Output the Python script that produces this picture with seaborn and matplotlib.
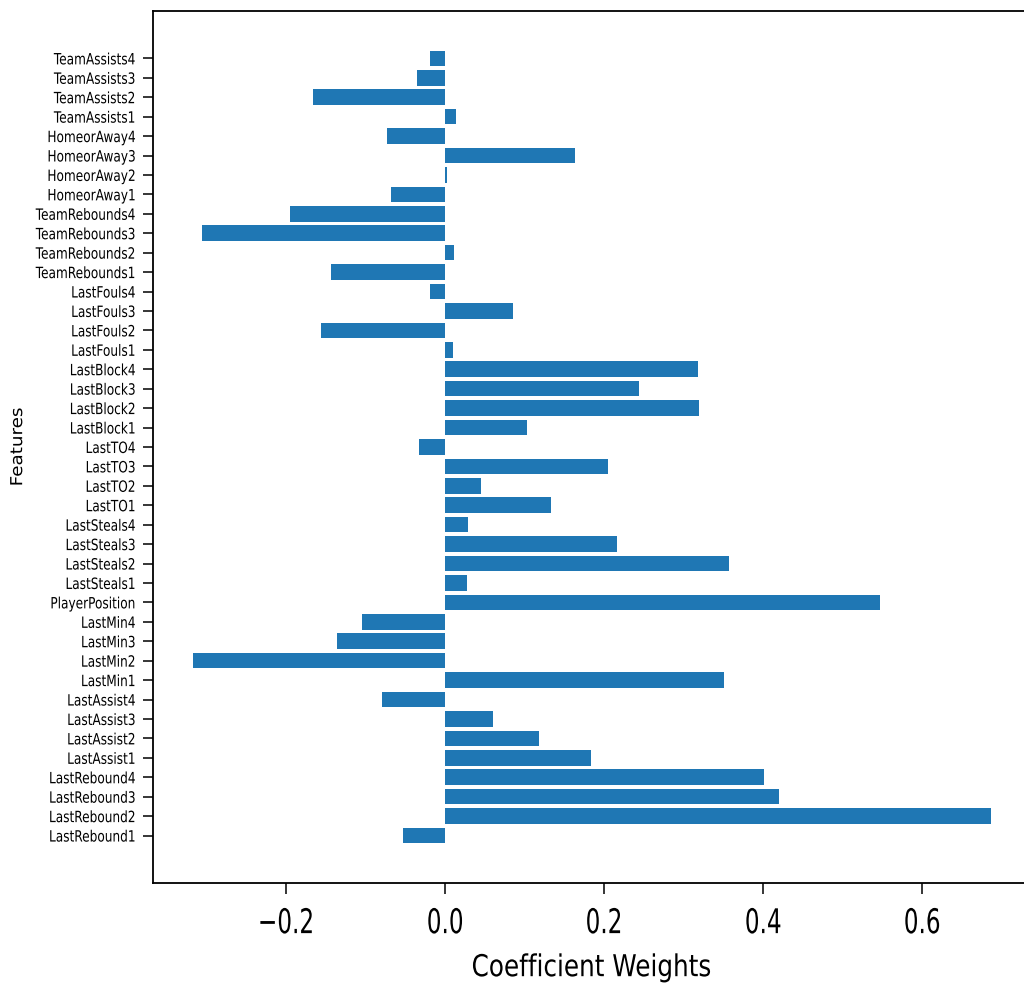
import numpy as np
import pandas as pd
import matplotlib
matplotlib.use("Agg")
import matplotlib.pyplot as plt
import seaborn as sns
from matplotlib.patheffects import AbstractPathEffect
from matplotlib.transforms import Affine2D

# Feature names, bottom of the axis first
features = [
    "LastRebound1", "LastRebound2", "LastRebound3", "LastRebound4",
    "LastAssist1", "LastAssist2", "LastAssist3", "LastAssist4",
    "LastMin1", "LastMin2", "LastMin3", "LastMin4",
    "PlayerPosition",
    "LastSteals1", "LastSteals2", "LastSteals3", "LastSteals4",
    "LastTO1", "LastTO2", "LastTO3", "LastTO4",
    "LastBlock1", "LastBlock2", "LastBlock3", "LastBlock4",
    "LastFouls1", "LastFouls2", "LastFouls3", "LastFouls4",
    "TeamRebounds1", "TeamRebounds2", "TeamRebounds3", "TeamRebounds4",
    "HomeorAway1", "HomeorAway2", "HomeorAway3", "HomeorAway4",
    "TeamAssists1", "TeamAssists2", "TeamAssists3", "TeamAssists4",
]

# Regression coefficient of each feature (same order)
weights = [
    -0.053, 0.686, 0.419, 0.401,
    0.183, 0.118, 0.060, -0.080,
    0.350, -0.318, -0.136, -0.105,
    0.547,
    0.027, 0.357, 0.216, 0.028,
    0.133, 0.045, 0.204, -0.033,
    0.103, 0.319, 0.243, 0.317,
    0.009, -0.156, 0.085, -0.020,
    -0.144, 0.011, -0.306, -0.196,
    -0.069, 0.002, 0.163, -0.074,
    0.013, -0.167, -0.036, -0.020,
]

x_ticks = [-0.2, 0.0, 0.2, 0.4, 0.6]


class Squeeze(AbstractPathEffect):
    """Draw text glyphs narrowed along one direction about an anchor."""

    def __init__(self, sx=1.0, sy=1.0, anchor="center"):
        super().__init__()
        self.sx, self.sy, self.anchor = sx, sy, anchor

    def draw_path(self, renderer, gc, tpath, affine, rgbFace=None):
        v = tpath.vertices
        if len(v) == 0:
            return
        x0, x1 = v[:, 0].min(), v[:, 0].max()
        y0, y1 = v[:, 1].min(), v[:, 1].max()
        ax_ = {"left": x0, "right": x1, "center": 0.5 * (x0 + x1)}[self.anchor]
        ay_ = 0.5 * (y0 + y1)
        t = (Affine2D().translate(-ax_, -ay_).scale(self.sx, self.sy)
             .translate(ax_, ay_) + affine)
        renderer.draw_path(gc, tpath, t, rgbFace)


df = pd.DataFrame({"feature": features, "weight": weights})
order = features[::-1]

fig = plt.figure(figsize=(10.24, 9.86), dpi=100)
ax = fig.add_axes([0.1492, 0.1045, 0.8574, 0.8844])

sns.barplot(data=df, x="weight", y="feature", order=order, orient="h",
            color="#1f77b4", saturation=1, width=0.8, linewidth=0, ax=ax)

n = len(features)
lo, hi = -0.4, n - 1 + 0.4
pad = 0.05 * (hi - lo)
ax.set_ylim(hi + pad, lo - pad)
wmin, wmax = min(weights), max(weights)
xpad = 0.05 * (wmax - wmin)
ax.set_xlim(wmin - xpad, wmax + xpad)

ax.set_xticks(x_ticks)
ax.set_xticklabels([f"{t:.1f}".replace("-", "\u2212") for t in x_ticks])

for s in ax.spines.values():
    s.set_visible(True)
    s.set_linewidth(1.3)
    s.set_color("black")

ax.tick_params(axis="x", length=8, width=1.1, pad=9.4, labelsize=24.5)
ax.tick_params(axis="y", length=7, width=1.1, pad=5.5, labelsize=11.2)

for lab in ax.get_xticklabels():
    lab.set_path_effects([Squeeze(sx=0.68, anchor="center")])
for lab in ax.get_yticklabels():
    lab.set_path_effects([Squeeze(sx=0.78, anchor="right")])

ax.set_xlabel("Coefficient Weights", fontsize=21.7, labelpad=9.4)
ax.xaxis.label.set_path_effects([Squeeze(sx=0.82, anchor="center")])
ax.set_ylabel("Features", fontsize=13.2)
ax.yaxis.label.set_path_effects([Squeeze(sy=0.9, anchor="center")])
ax.yaxis.set_label_coords(-0.1435, 0.5)

fig.savefig("out.png", dpi=100)
